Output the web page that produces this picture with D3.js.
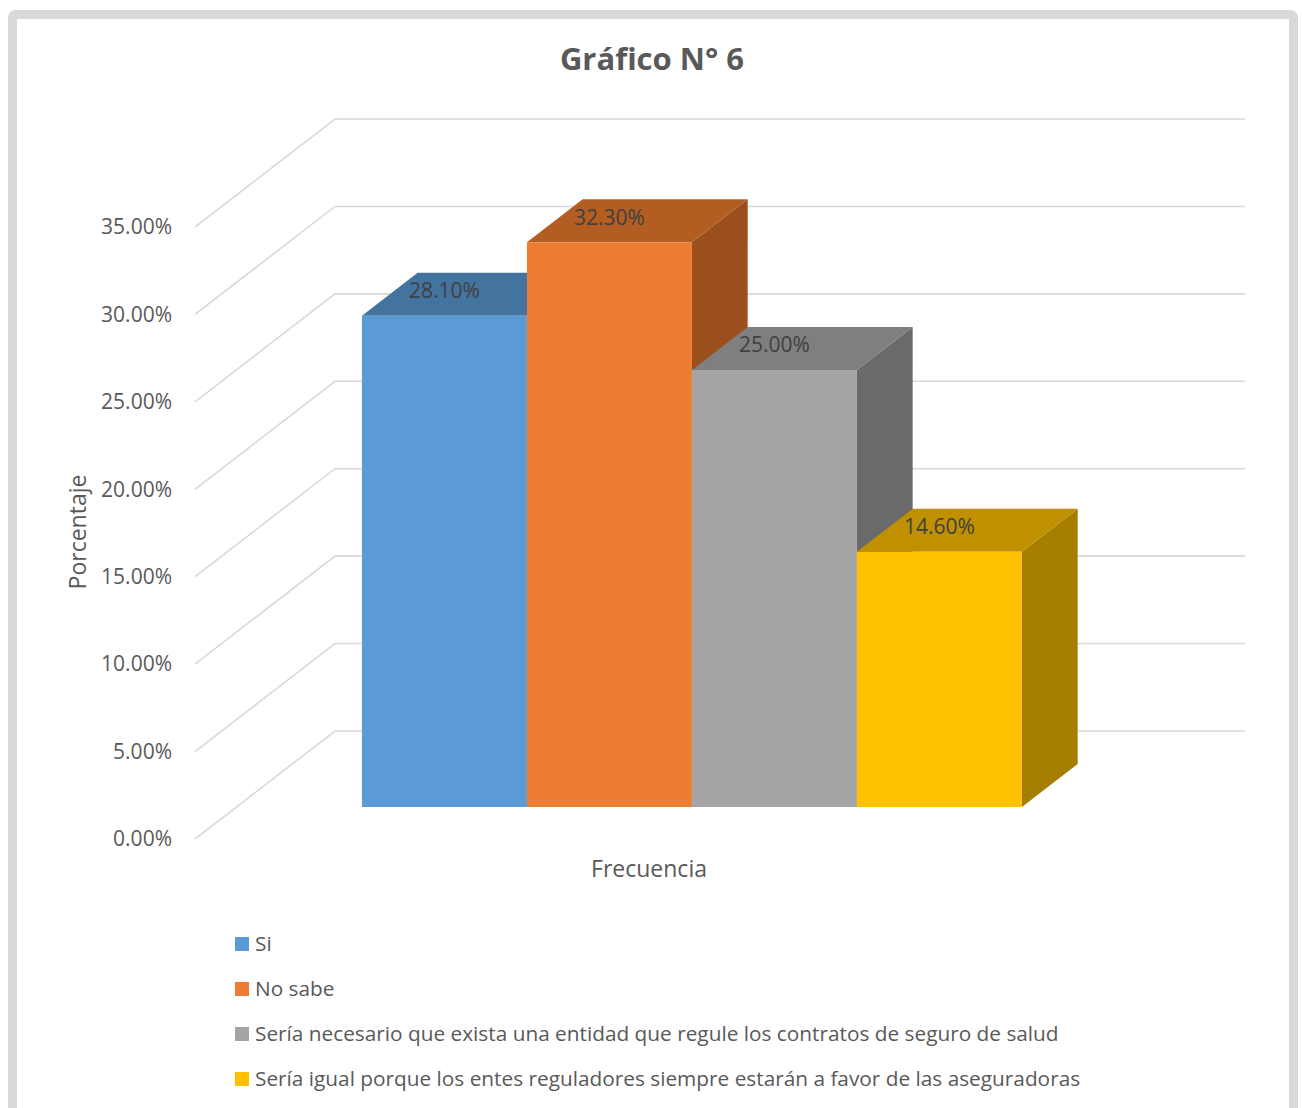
<!DOCTYPE html>
<html>
<head>
<meta charset="utf-8">
<script src="https://cdn.jsdelivr.net/npm/d3@7"></script>
<style>
  html, body { margin: 0; padding: 0; background: #ffffff; }
  svg { display: block; font-family: "Open Sans", "Noto Sans", sans-serif; }
</style>
</head>
<body>
<svg id="chart" width="1302" height="1108"></svg>
<script>
// Survey answers and their share of responses (%)
const categories = [
  "Si",
  "No sabe",
  "Sería necesario que exista una entidad que regule los contratos de seguro de salud",
  "Sería igual porque los entes reguladores siempre estarán a favor de las aseguradoras"
];
const values = [28.1, 32.3, 25.0, 14.6];
const tickValues = [0, 5, 10, 15, 20, 25, 30, 35];
const tickLabels = ["0.00%", "5.00%", "10.00%", "15.00%", "20.00%", "25.00%", "30.00%", "35.00%"];

// Face colours per series: front, top, side
const frontColors = ["#5B9BD5", "#ED7D31", "#A5A5A5", "#FFC000"];
const topColors   = ["#43739F", "#B45D22", "#7F7F7F", "#C09000"];
const sideColors  = ["#3F6B94", "#9A4F1C", "#6A6A6A", "#A67E00"];

const svg = d3.select("#chart");

// Outer frame
svg.append("rect")
  .attr("x", 12.5).attr("y", 14.5)
  .attr("width", 1281).attr("height", 1110)
  .attr("rx", 3)
  .attr("fill", "#ffffff")
  .attr("stroke", "#d9d9d9")
  .attr("stroke-width", 9);

// Oblique projection: depth z in [0,1] shifts a point up and to the right
const DX = 140, DY = 108;
const proj = (x, v, z) => [x + z * DX, y(v) - z * DY];

const y = d3.scaleLinear().domain([0, 35]).range([839, 227]);
const floorX = [195, 1105];
const x = d3.scaleBand().domain(categories).range([320.5, 980.5]).padding(0);
const zFront = 0.296, zBack = 0.694;

// Gridlines: side wall diagonal + back wall horizontal
const grid = svg.append("g").attr("fill", "none").attr("stroke", "#d9d9d9").attr("stroke-width", 1.6);
tickValues.forEach(v => {
  const a = proj(floorX[0], v, 0), b = proj(floorX[0], v, 1), c = proj(floorX[1], v, 1);
  grid.append("path").attr("d", `M${a}L${b}L${c}`);
});

// Value axis labels
svg.append("g")
  .selectAll("text")
  .data(tickValues)
  .join("text")
  .attr("x", 172)
  .attr("y", v => y(v))
  .attr("dy", "0.35em")
  .attr("text-anchor", "end")
  .attr("fill", "#595959")
  .attr("font-size", 21)
  .text((v, i) => tickLabels[i]);

// 3D bars, drawn left to right so later bars cover earlier side faces
const poly = pts => "M" + pts.map(p => p.join(",")).join("L") + "Z";
const bars = svg.append("g");
categories.forEach((c, i) => {
  const x0 = x(c), x1 = x0 + x.bandwidth(), v = values[i];
  const g = bars.append("g");
  // right side
  g.append("path").attr("fill", sideColors[i]).attr("d", poly([
    proj(x1, 0, zFront), proj(x1, 0, zBack), proj(x1, v, zBack), proj(x1, v, zFront)
  ]));
  // top
  g.append("path").attr("fill", topColors[i]).attr("d", poly([
    proj(x0, v, zFront), proj(x0, v, zBack), proj(x1, v, zBack), proj(x1, v, zFront)
  ]));
  // front
  g.append("path").attr("fill", frontColors[i]).attr("d", poly([
    proj(x0, 0, zFront), proj(x0, v, zFront), proj(x1, v, zFront), proj(x1, 0, zFront)
  ]));
});

// Data labels
svg.append("g")
  .selectAll("text")
  .data(categories)
  .join("text")
  .attr("x", c => proj(x(c) + x.bandwidth() / 2, 0, zFront)[0])
  .attr("y", (c, i) => proj(0, values[i], zFront)[1] - 25)
  .attr("dy", "0.35em")
  .attr("text-anchor", "middle")
  .attr("fill", "#404040")
  .attr("font-size", 21)
  .text((c, i) => values[i].toFixed(2) + "%");

// Title
svg.append("text")
  .attr("x", 652).attr("y", 59).attr("dy", "0.35em")
  .attr("text-anchor", "middle")
  .attr("fill", "#595959")
  .attr("font-size", 31)
  .attr("font-weight", "bold")
  .text("Gráfico N° 6");

// Axis titles
svg.append("text")
  .attr("transform", "translate(78,532) rotate(-90)")
  .attr("dy", "0.35em")
  .attr("text-anchor", "middle")
  .attr("fill", "#595959")
  .attr("font-size", 23)
  .text("Porcentaje");

svg.append("text")
  .attr("x", 649).attr("y", 869).attr("dy", "0.35em")
  .attr("text-anchor", "middle")
  .attr("fill", "#595959")
  .attr("font-size", 23)
  .text("Frecuencia");

// Legend
const legend = svg.append("g")
  .selectAll("g")
  .data(categories)
  .join("g")
  .attr("transform", (c, i) => `translate(235,${944 + i * 45})`);
legend.append("rect")
  .attr("x", 0).attr("y", -7).attr("width", 14).attr("height", 14)
  .attr("fill", (c, i) => frontColors[i]);
legend.append("text")
  .attr("x", 20).attr("dy", "0.35em")
  .attr("fill", "#595959")
  .attr("font-size", 20.8)
  .text(c => c);
</script>
</body>
</html>
